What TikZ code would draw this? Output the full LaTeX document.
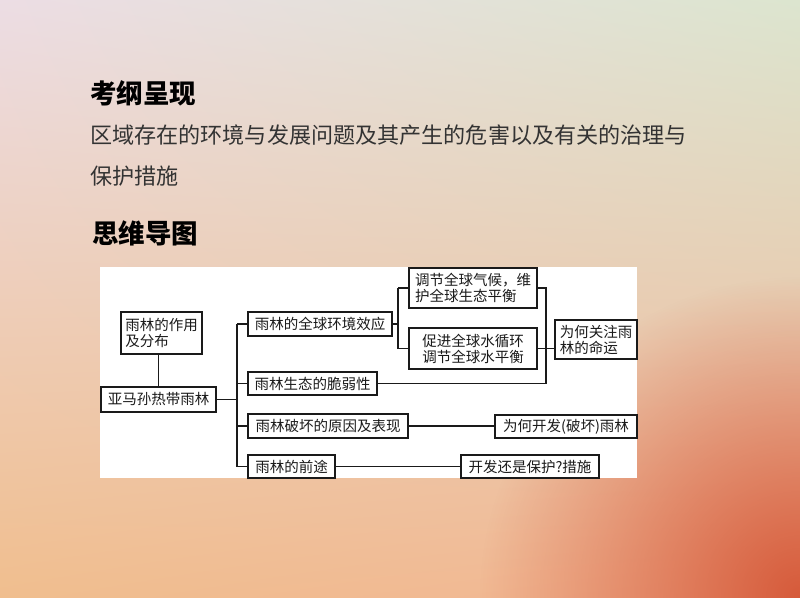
\documentclass[tikz,border=0pt]{standalone}
\usepackage{fontspec}
\newfontfamily\cjk{Noto Sans CJK SC}
\usetikzlibrary{fadings,shadings}
\tikzfading[name=radfade, inner color=transparent!0, outer color=transparent!100]
\definecolor{bgtl}{HTML}{ECDDE4}
\definecolor{bgtr}{HTML}{DCE5CF}
\definecolor{bgbl}{HTML}{F0BE8E}
\definecolor{bgbr}{HTML}{F2B696}
\definecolor{coral}{HTML}{D65A3A}
\definecolor{ink}{HTML}{1A1A1A}
\definecolor{bodyink}{HTML}{333333}
\tikzset{
  x=1pt, y=-1pt,
  box/.style={draw=ink, line width=1.3pt, fill=white, inner sep=0pt, text=ink,
    font=\cjk\fontsize{14.5}{16}\selectfont, align=left},
  conn/.style={draw=ink, line width=1.2pt},
  heading/.style={anchor=west, inner sep=0pt, text=black, font=\cjk\bfseries\fontsize{26.5}{30}\selectfont},
  body/.style={anchor=west, inner sep=0pt, text=bodyink, font=\cjk\fontsize{22.1}{26}\selectfont}
}
\begin{document}
\begin{tikzpicture}
% background
\useasboundingbox (0,0) rectangle (800,597);
\shade[upper left=bgtl, upper right=bgtr, lower left=bgbl, lower right=bgbr] (0,0) rectangle (800,597);
\begin{scope}
\clip (0,0) rectangle (800,597);
\fill[coral, path fading=radfade] (800,597) circle (320);
\end{scope}
% titles
\node[heading] (t1) at (90,93) {考纲呈现};
\node[body] (b1) at (90,135) {区域存在的环境与发展问题及其产生的危害以及有关的治理与};
\node[body] (b2) at (90,176) {保护措施};
\node[heading] (t2) at (92,233) {思维导图};
% panel
\fill[white] (100,267) rectangle (637,478);
% boxes
\node[box, minimum width=81, minimum height=42] (zy) at (161.5,333) {雨林的作用\\及分布};
\node[box, minimum width=115, minimum height=25] (ym) at (158.5,399.5) {亚马孙热带雨林};
\node[box, minimum width=144, minimum height=24] (xy) at (320,324) {雨林的全球环境效应};
\node[box, minimum width=129, minimum height=23] (cr) at (312.5,383.5) {雨林生态的脆弱性};
\node[box, minimum width=160, minimum height=24] (yy) at (328,426) {雨林破坏的原因及表现};
\node[box, minimum width=87, minimum height=23] (qt) at (291.5,466.5) {雨林的前途};
\node[box, minimum width=128, minimum height=40] (tj) at (473,288) {调节全球气候，维\\护全球生态平衡};
\node[box, minimum width=128, minimum height=41] (cj) at (473,348.5) {促进全球水循环\\调节全球水平衡};
\node[box, minimum width=82, minimum height=39] (wh) at (596,339.5) {为何关注雨\\林的命运};
\node[box, minimum width=142, minimum height=23] (kf) at (566,426.5) {为何开发(破坏)雨林};
\node[box, minimum width=138, minimum height=23] (bh) at (530,466.5) {开发还是保护?措施};
% guide coordinates
\coordinate (tx) at (237,0);
\coordinate (bx) at (398,0);
\coordinate (rx) at (546,0);
% connectors
\draw[conn] (ym.north) -- (ym.north |- zy.south);
\draw[conn] (ym.east) -- (ym.east -| tx);
\draw[conn] (xy.west -| tx) -- (qt.west -| tx);
\draw[conn] (xy.west -| tx) -- (xy.west);
\draw[conn] (cr.west -| tx) -- (cr.west);
\draw[conn] (yy.west -| tx) -- (yy.west);
\draw[conn] (qt.west -| tx) -- (qt.west);
\draw[conn] (xy.east) -- (xy.east -| bx);
\draw[conn] (tj.west -| bx) -- (cj.west -| bx);
\draw[conn] (tj.west -| bx) -- (tj.west);
\draw[conn] (cj.west -| bx) -- (cj.west);
\draw[conn] (tj.east) -- (tj.east -| rx) -- (rx |- cr.east) -- (cr.east);
\draw[conn] (cj.east) -- (cj.east -| wh.west);
\draw[conn] (yy.east) -- (yy.east -| kf.west);
\draw[conn] (qt.east) -- (qt.east -| bh.west);
\end{tikzpicture}
\end{document}
